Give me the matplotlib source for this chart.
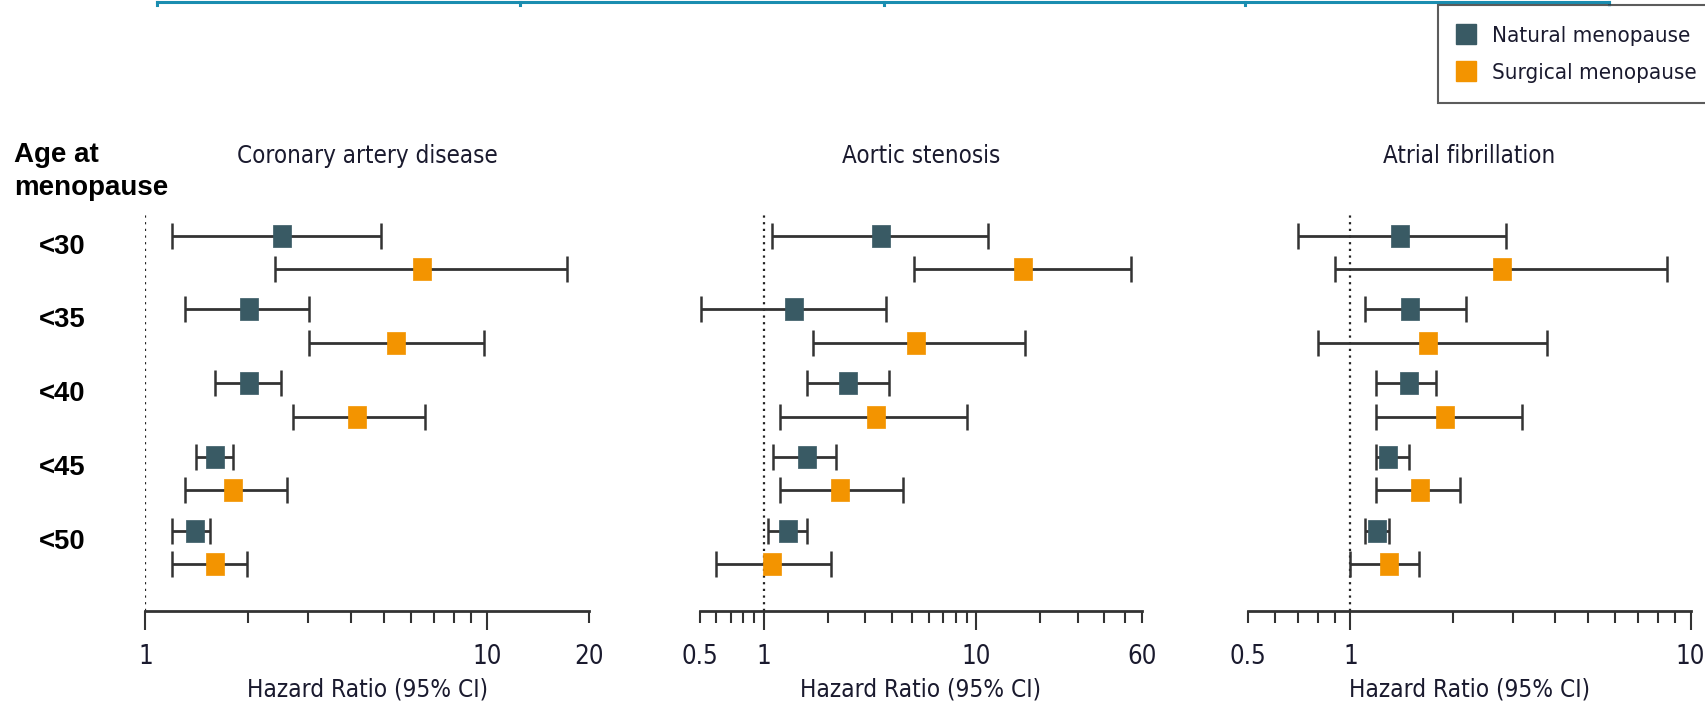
import matplotlib
matplotlib.use('Agg')
import matplotlib.pyplot as plt
from matplotlib import font_manager
from matplotlib.lines import Line2D
import numpy as np

# font: narrow sans if we have one
names = {f.name for f in font_manager.fontManager.ttflist}
if 'Liberation Sans Narrow' in names:
    plt.rcParams['font.family'] = ['Liberation Sans Narrow', 'DejaVu Sans']
else:
    plt.rcParams['font.family'] = ['DejaVu Sans']
    plt.rcParams['font.stretch'] = 'condensed'
BOLD = ['Liberation Sans', 'DejaVu Sans']

ages = ['<30', '<35', '<40', '<45', '<50']
groups = ['Natural menopause', 'Surgical menopause']
outcomes = ['Coronary artery disease', 'Aortic stenosis', 'Atrial fibrillation']

# hazard ratio, lower CI, upper CI (per age group)
cad_nat_hr = [2.51, 2.01, 2.01, 1.60, 1.40]
cad_nat_lo = [1.20, 1.31, 1.60, 1.41, 1.20]
cad_nat_hi = [4.91, 3.02, 2.50, 1.80, 1.55]
cad_sur_hr = [6.48, 5.41, 4.18, 1.81, 1.60]
cad_sur_lo = [2.39, 3.02, 2.71, 1.31, 1.20]
cad_sur_hi = [17.2, 9.79, 6.60, 2.60, 1.99]

as_nat_hr = [3.57, 1.39, 2.50, 1.60, 1.30]
as_nat_lo = [1.10, 0.51, 1.60, 1.11, 1.05]
as_nat_hi = [11.4, 3.76, 3.89, 2.20, 1.60]
as_sur_hr = [16.5, 5.23, 3.37, 2.29, 1.10]
as_sur_lo = [5.08, 1.71, 1.20, 1.20, 0.60]
as_sur_hi = [53.4, 17.0, 9.02, 4.52, 2.08]

af_nat_hr = [1.40, 1.50, 1.49, 1.29, 1.20]
af_nat_lo = [0.70, 1.10, 1.19, 1.19, 1.10]
af_nat_hi = [2.87, 2.19, 1.79, 1.49, 1.30]
af_sur_hr = [2.78, 1.69, 1.89, 1.60, 1.30]
af_sur_lo = [0.90, 0.80, 1.19, 1.19, 1.00]
af_sur_hi = [8.55, 3.79, 3.19, 2.10, 1.59]

xlims = [(1, 20), (0.5, 60), (0.5, 10)]
major_ticks = [[1, 10], [1, 10], [1, 10]]
minor_ticks = [[2, 3, 4, 5, 6, 7, 8, 9, 20],
               [0.5, 0.6, 0.7, 0.8, 0.9, 2, 3, 4, 5, 6, 7, 8, 9, 20, 30, 40, 50, 60],
               [0.5, 0.6, 0.7, 0.8, 0.9, 2, 3, 4, 5, 6, 7, 8, 9]]
minor_labels = [[20], [0.5, 60], [0.5]]

data = [
    [(cad_nat_hr, cad_nat_lo, cad_nat_hi), (cad_sur_hr, cad_sur_lo, cad_sur_hi)],
    [(as_nat_hr, as_nat_lo, as_nat_hi), (as_sur_hr, as_sur_lo, as_sur_hi)],
    [(af_nat_hr, af_nat_lo, af_nat_hi), (af_sur_hr, af_sur_lo, af_sur_hi)],
]
colors = ['#395a64', '#f39400']
txtcol = '#1a1a2e'
rect = [(-0.42, -0.5), (0.42, -0.5), (0.42, 0.5), (-0.42, 0.5), (-0.42, -0.5)]

W, H = 1706, 708
fig = plt.figure(figsize=(W / 100, H / 100), dpi=100)

lefts = [145.4, 699.5, 1248.1]
rights = [589.4, 1141.9, 1690.6]
top_px, bot_px = 211.6, 611

def fmt(v):
    return ('%g' % v)

axes = []
for k in range(3):
    ax = fig.add_axes([lefts[k] / W, 1 - bot_px / H, (rights[k] - lefts[k]) / W, (bot_px - top_px) / H])
    axes.append(ax)
    ypos = np.arange(len(ages)) * 2.2
    for g in range(2):
        hr, lo, hi = [np.array(a) for a in data[k][g]]
        y = ypos + g
        ax.errorbar(hr, y, xerr=[hr - lo, hi - hr], fmt='none', ecolor='#333333',
                    elinewidth=2, capsize=9.4, capthick=1.8, zorder=2)
        ax.plot(hr, y, ls='none', marker=rect, ms=15.8, mfc=colors[g], mec=colors[g],
                mew=0.5, zorder=3)
    ax.axvline(1, color='#222222', ls=(0, (1, 2)), lw=1.6, zorder=1)
    ax.set_xscale('log')
    ax.set_xlim(*xlims[k])
    ax.set_ylim(11.2, -0.72)
    ax.set_yticks([])
    for s in ['left', 'right', 'top']:
        ax.spines[s].set_visible(False)
    ax.spines['bottom'].set_linewidth(2)
    ax.spines['bottom'].set_color('#333333')
    ax.set_xticks(major_ticks[k], labels=[fmt(v) for v in major_ticks[k]])
    ax.set_xticks(minor_ticks[k], labels=[fmt(v) if v in minor_labels[k] else '' for v in minor_ticks[k]], minor=True)
    ax.tick_params(which='major', length=13.5, width=1.5, color='#333333', pad=10, labelsize=18.5, labelcolor=txtcol)
    ax.tick_params(which='minor', length=8.5, width=1.5, color='#333333', pad=15, labelsize=18.5, labelcolor=txtcol)
    ax.text(0.5, (bot_px - 690) / (bot_px - top_px), 'Hazard Ratio (95% CI)', transform=ax.transAxes,
            ha='center', va='center', fontsize=17.5, color=txtcol)
    fig.text((lefts[k] + rights[k]) / 2 / W, 1 - 162.7 / H, outcomes[k], ha='center', va='baseline',
             fontsize=17.3, color=txtcol)

# row labels
ax1 = axes[0]
for i, a in enumerate(ages):
    ax1.text((62.6 - lefts[0]) / (rights[0] - lefts[0]), i * 2.2 + 0.33, a,
             transform=ax1.get_yaxis_transform(), ha='center', va='center',
             fontsize=19.8, fontweight='bold', family=BOLD)
fig.text(14.5 / W, 1 - 161.7 / H, 'Age at', ha='left', va='baseline', fontsize=20,
         fontweight='bold', family=BOLD)
fig.text(14.5 / W, 1 - 195 / H, 'menopause', ha='left', va='baseline', fontsize=20,
         fontweight='bold', family=BOLD)

# cut-off bracket line along the top
tcol = '#1a8db0'
fig.add_artist(Line2D([157 / W, 1609 / W], [1 - 1.5 / H, 1 - 1.5 / H], color=tcol, lw=2.2))
for xt in [157, 520, 884, 1245, 1609]:
    fig.add_artist(Line2D([xt / W, xt / W], [1 - 1.5 / H, 1 - 5 / H], color=tcol, lw=2.2))

handles = [Line2D([], [], ls='none', marker='s', ms=14, mfc=c, mec=c) for c in colors]
leg = fig.legend(handles, groups, loc='upper left', bbox_to_anchor=(1438.3 / W, 1 - 5 / H),
                 bbox_transform=fig.transFigure, borderaxespad=0, fontsize=16,
                 frameon=True, fancybox=False, handlelength=0.6, handletextpad=0.87,
                 labelspacing=0.75, borderpad=0.94, labelcolor=txtcol)
leg.get_frame().set_edgecolor('#333333')
leg.get_frame().set_linewidth(1.5)

fig.savefig('out.png', dpi=100)
